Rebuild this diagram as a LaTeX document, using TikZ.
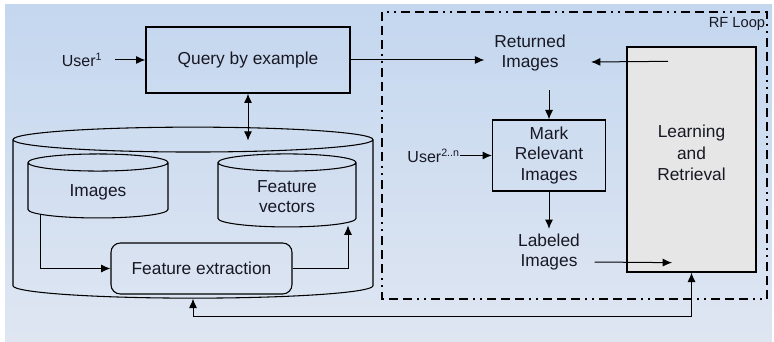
\documentclass[tikz,border=0pt]{standalone}
\usepackage{fontspec}
\setmainfont{Liberation Sans}
\usetikzlibrary{arrows.meta,shapes.geometric,positioning,calc}
\definecolor{bgtop}{RGB}{196,215,239}
\definecolor{bgbot}{RGB}{223,230,242}
\definecolor{boxgray}{RGB}{230,230,230}
\definecolor{ink}{RGB}{24,24,36}

\begin{document}
\begin{tikzpicture}[x=0.75pt,y=-0.75pt,font=\fontsize{13}{15.5}\selectfont,text=ink,
  block/.style={draw,line width=1pt,align=center},
  store/.style={draw,cylinder,shape border rotate=90,line width=0.8pt,align=center},
  step label/.style={align=center},
  small/.style={font=\fontsize{12}{14}\selectfont},
  link/.style={line width=0.75pt,-{Latex[length=7pt,width=6pt]}},
  both/.style={line width=0.75pt,{Latex[length=7pt,width=6pt]}-{Latex[length=7pt,width=6pt]}},
  rfloop/.style={line width=1.1pt,dash pattern=on 6.75pt off 3.75pt on 6.75pt off 3.75pt on 6.75pt off 3.75pt on 1.5pt off 3.75pt on 1.5pt off 3.75pt}]
\useasboundingbox (0,0) rectangle (774,342);
\shade [top color=bgtop,bottom color=bgbot] (5,5) rectangle (772,342);

% relevance feedback loop
\draw [rfloop] (382,12) rectangle (767,299);
\node (rf) [font=\fontsize{11}{13}\selectfont] at (737,24) {RF Loop};

% query side
\node (query) [block,minimum width=153pt,minimum height=49.5pt] at (248,60) {Query by example};
\node (user1) [small] at (82,60) {User\textsuperscript{1}};

% database (the end caps follow the text width, hence the aspects)
\node (bigdb) [store,aspect=2.8,minimum width=270pt,minimum height=128.25pt] at (193,220.5) {};
\node (imgdb) [store,aspect=0.26,minimum width=105pt,minimum height=48pt] at (98,192) {Images};
\node (featdb) [store,aspect=0.25,minimum width=103.5pt,minimum height=54.75pt] at (287,196.5) {Feature\\vectors};
\node (extract) [block,line width=0.8pt,rounded corners=7pt,minimum width=135.75pt,minimum height=38.25pt] at (201.5,268.5) {Feature extraction};

% feedback side
\node (returned) [step label] at (530,53) {Returned\\Images};
\node (mark) [block,minimum width=84.75pt,minimum height=53.25pt] at (549,155.5) {Mark\\Relevant\\Images};
\node (user2) [small,anchor=east,inner xsep=0pt] at (460,155.5) {User\textsuperscript{2..n}};
\node (labeled) [step label] at (549,252) {Labeled\\Images};
\node (learn) [block,fill=boxgray,font=\fontsize{13}{16}\selectfont,text depth=10pt,minimum width=96.75pt,minimum height=168.75pt] at (691.5,159.5) {Learning\\and\\Retrieval};

\draw [link] ([xshift=6pt]user1.east) -- (query.west);
\draw [both] (query.south) -- ++(0,47);
\draw [link] (query.east) -- ([xshift=-4pt,yshift=-5.25pt]returned.west);
\draw [link] ([xshift=-17.6pt,yshift=-11.25pt]learn.north) -- ([xshift=15.5pt,yshift=-6.75pt]returned.east);
\draw [link] ([xshift=14.25pt,yshift=-10.5pt]returned.south) -- (mark.north);
\draw [link] (user2.east) -- (mark.west);
\draw [link] (mark.south) -- (labeled.north);
\draw [link] ([xshift=7.5pt,yshift=-7.5pt]labeled.east) -- ([xshift=-14.6pt,yshift=7.5pt]learn.south);
\draw [link] ($(imgdb.south)+(-58,-4)$) |- (extract.west);
\draw [link] (extract.east) -| ($(featdb.south)+(61,-2)$);
\draw [both] (bigdb.south) -- ++(0,18) -| (learn.south);
\end{tikzpicture}
\end{document}
